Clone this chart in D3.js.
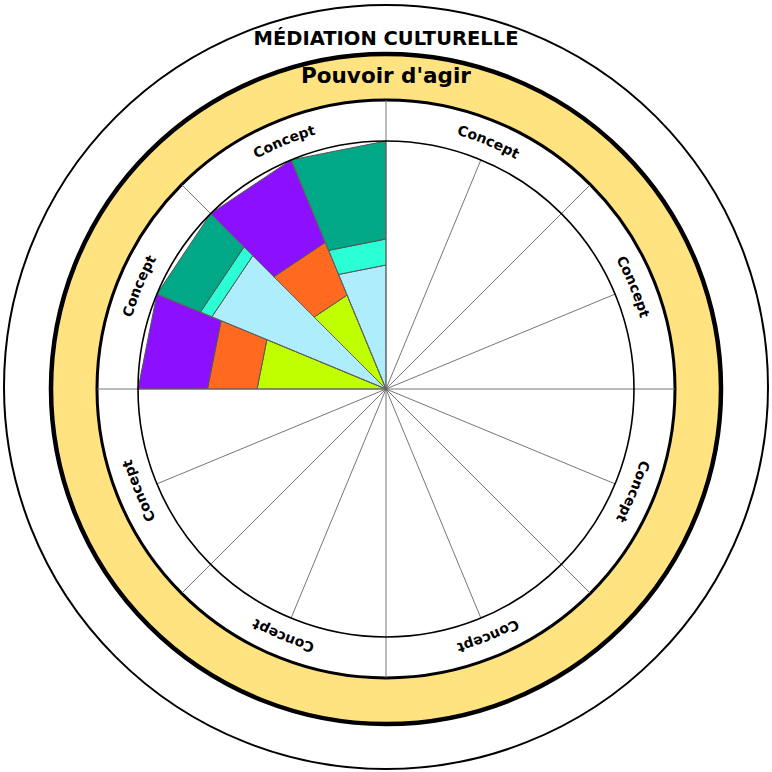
<!DOCTYPE html>
<meta charset="utf-8">
<style>
body {
    margin: 0;
    padding: 0;
    background: #fff;
}
text {
    font-family: "DejaVu Sans", sans-serif;
    font-weight: bold;
}
</style>
<svg width="772" height="772"></svg>
<script src="https://cdnjs.cloudflare.com/ajax/libs/d3/7.8.5/d3.min.js"></script>
<script>
// titles
var title = "MÉDIATION CULTURELLE";
var subtitle = "Pouvoir d'agir";

// 8 concept sectors, each split into 2 slices (16 slices of 22.5 deg, clockwise from top)
var concepts = ["Concept", "Concept", "Concept", "Concept", "Concept", "Concept", "Concept", "Concept"];
var sliceCount = 16;

// filled slices (index clockwise from 12 o'clock) and their stacked values (0-100)
var slices = [12, 13, 14, 15];
var innerVals = [52, 76, 41, 50];
var middleVals = [20, 5, 23, 10.5];
var outerVals = [28, 19, 36, 39.5];

// even slices use palette 0, odd slices palette 1
var palettes = [
    ["#bfff00", "#ff6a20", "#8c10ff"],
    ["#aeeefc", "#2affd5", "#00a888"]
];

var svg = d3.select("svg"),
    cx = 386,
    cy = 389;

var rInner = 248,   // chart area
    rLabel = 289,   // concept ring
    rYellow = 335;  // "Pouvoir d'agir" ring

var r = d3.scaleLinear().domain([0, 100]).range([0, rInner]);
var angle = d3.scaleLinear().domain([0, sliceCount]).range([0, 2 * Math.PI]);

// outer circle (slightly higher than the rest)
svg.append("circle")
    .attr("cx", cx).attr("cy", 387).attr("r", 382)
    .attr("fill", "#fff").attr("stroke", "#000").attr("stroke-width", 2);

var g = svg.append("g").attr("transform", "translate(" + cx + "," + cy + ")");

g.append("circle")
    .attr("r", rYellow)
    .attr("fill", "#ffe380").attr("stroke", "#000").attr("stroke-width", 4.5);

g.append("circle")
    .attr("r", rLabel)
    .attr("fill", "#fff").attr("stroke", "#000").attr("stroke-width", 3);

// stacked polygons
var segs = [];
slices.forEach(function(s, i) {
    var vals = [innerVals[i], middleVals[i], outerVals[i]];
    var acc = 0;
    vals.forEach(function(v, j) {
        segs.push({slice: s, r0: acc, r1: acc + v, color: palettes[s % 2][j]});
        acc += v;
    });
});

g.selectAll("path.seg")
    .data(segs)
    .enter().append("path")
    .attr("class", "seg")
    .attr("fill", function(d) { return d.color; })
    .attr("stroke", "#555")
    .attr("stroke-width", 1)
    .attr("stroke-linejoin", "round")
    .attr("d", function(d) {
        var a0 = angle(d.slice), a1 = angle(d.slice + 1);
        var pts = [
            d3.pointRadial(a0, r(d.r0)),
            d3.pointRadial(a1, r(d.r0)),
            d3.pointRadial(a1, r(d.r1)),
            d3.pointRadial(a0, r(d.r1))
        ];
        return "M" + pts.join("L") + "Z";
    });

// slice lines: sector borders reach the concept ring, the others stop at the inner circle
g.selectAll("line.spoke")
    .data(d3.range(sliceCount))
    .enter().append("line")
    .attr("class", "spoke")
    .attr("x1", 0).attr("y1", 0)
    .attr("x2", function(d) { return d3.pointRadial(angle(d), d % 2 ? rInner : rLabel)[0]; })
    .attr("y2", function(d) { return d3.pointRadial(angle(d), d % 2 ? rInner : rLabel)[1]; })
    .attr("stroke", "#666")
    .attr("stroke-width", 0.9);

g.append("circle")
    .attr("r", rInner)
    .attr("fill", "none").attr("stroke", "#000").attr("stroke-width", 1.6);

// concept labels on a clockwise circle starting at the top
var rText = 264;
g.append("path")
    .attr("id", "labelArc")
    .attr("fill", "none")
    .attr("d", "M0," + (-rText) + "A" + rText + "," + rText + " 0 1 1 0," + rText +
               "A" + rText + "," + rText + " 0 1 1 0," + (-rText));

g.selectAll("text.concept")
    .data(concepts)
    .enter().append("text")
    .attr("class", "concept")
    .style("font-size", "14px")
    .attr("fill", "#000")
  .append("textPath")
    .attr("href", "#labelArc")
    .attr("text-anchor", "middle")
    .attr("startOffset", function(d, i) { return (2 * Math.PI * rText) * (i * 2 + 1) / sliceCount; })
    .text(function(d) { return d; });

// titles
svg.append("text")
    .attr("x", cx).attr("y", 45)
    .attr("text-anchor", "middle")
    .style("font-size", "19.5px")
    .text(title);

svg.append("text")
    .attr("x", cx).attr("y", 83)
    .attr("text-anchor", "middle")
    .style("font-size", "21.5px")
    .text(subtitle);
</script>
